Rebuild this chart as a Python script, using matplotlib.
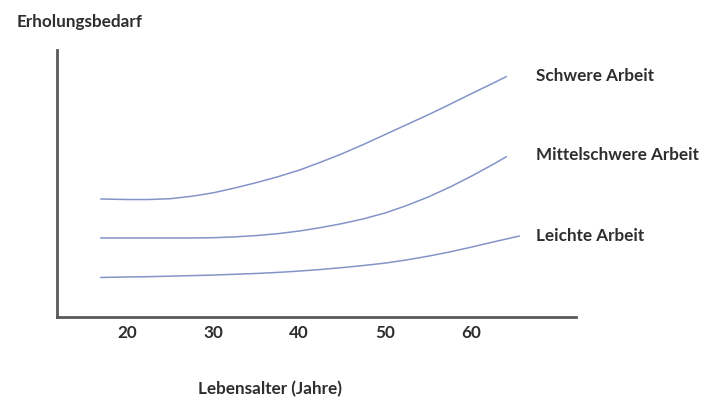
import matplotlib.pyplot as plt

# age values (years) and relative need for recovery (arbitrary units 0-10)
ages = [17, 20, 22.5, 25, 27.5, 30, 32.5, 35, 37.5, 40, 42.5, 45, 47.5,
        50, 52.5, 55, 57.5, 60, 62.5, 64]
schwer = [4.42, 4.40, 4.40, 4.43, 4.52, 4.65, 4.83, 5.03, 5.25, 5.5, 5.8,
          6.12, 6.47, 6.84, 7.21, 7.58, 7.97, 8.37, 8.76, 9.0]
mittel = [2.96, 2.96, 2.96, 2.96, 2.96, 2.97, 3.0, 3.05, 3.12, 3.22, 3.35,
          3.5, 3.68, 3.9, 4.18, 4.5, 4.87, 5.28, 5.72, 6.0]

ages_leicht = [17, 20, 22.5, 25, 27.5, 30, 32.5, 35, 37.5, 40, 42.5, 45,
               47.5, 50, 52.5, 55, 57.5, 60, 62.5, 65.5]
leicht = [1.48, 1.5, 1.51, 1.53, 1.55, 1.57, 1.6, 1.63, 1.67, 1.72, 1.78,
          1.85, 1.93, 2.02, 2.14, 2.28, 2.44, 2.62, 2.81, 3.03]

labels = ["Schwere Arbeit", "Mittelschwere Arbeit", "Leichte Arbeit"]
xticks = [20, 30, 40, 50, 60]

plt.rcParams['font.family'] = ['Lato', 'DejaVu Sans']
text_col = '#2e2e2e'
line_col = '#8494c8'
fs = 12.3

fig = plt.figure(figsize=(7.17, 4.01), dpi=100)
ax = fig.add_axes([57 / 717, 84 / 401, 519 / 717, 267 / 401])

ax.plot(ages, schwer, color=line_col, lw=1.1)
ax.plot(ages, mittel, color=line_col, lw=1.1)
ax.plot(ages_leicht, leicht, color=line_col, lw=1.1)

ax.set_xlim(11.9, 72.1)
ax.set_ylim(0, 10)
ax.set_xticks(xticks)
ax.set_yticks([])
ax.tick_params(axis='x', length=0, pad=6, labelsize=fs, labelcolor=text_col)
for lab in ax.get_xticklabels():
    lab.set_fontweight('bold')

for s in ['top', 'right']:
    ax.spines[s].set_visible(False)
for s in ['left', 'bottom']:
    ax.spines[s].set_color('#5a5a5a')
    ax.spines[s].set_linewidth(2.0)

# curve labels on the right
label_y = [76, 155, 236]
for lab, yp in zip(labels, label_y):
    fig.text(536 / 717, 1 - yp / 401, lab, ha='left', va='center',
             fontsize=fs, fontweight='bold', color=text_col)

fig.text(17 / 717, 1 - 22 / 401, "Erholungsbedarf", ha='left', va='center',
         fontsize=fs, fontweight='bold', color=text_col)
fig.text(270 / 717, 1 - 389 / 401, "Lebensalter (Jahre)", ha='center', va='center',
         fontsize=fs, fontweight='bold', color=text_col)

fig.savefig("out.png", dpi=100)
